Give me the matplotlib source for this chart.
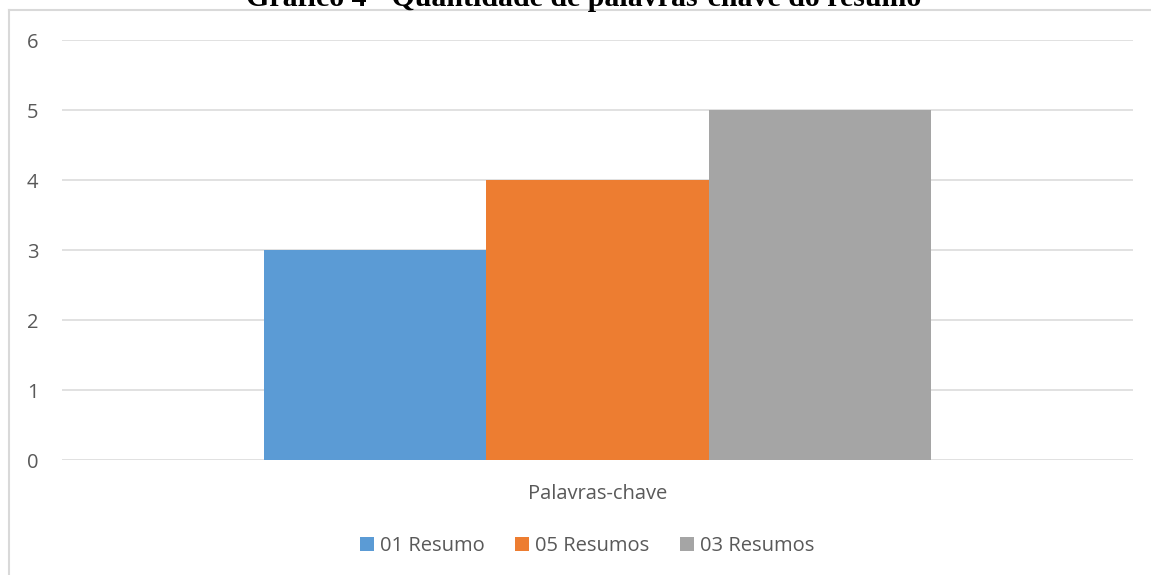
import matplotlib.pyplot as plt
from matplotlib.lines import Line2D
import numpy as np

category = 'Palavras-chave'
labels = ['01 Resumo', '05 Resumos', '03 Resumos']
values = [3, 4, 5]
colors = ['#5b9bd5', '#ed7d31', '#a5a5a5']
title = 'Gráfico 4 - Quantidade de palavras-chave do resumo'

plt.rcParams['font.family'] = ['Open Sans', 'DejaVu Sans']

fig = plt.figure(figsize=(11.51, 5.75), dpi=100)
ax = fig.add_axes([62 / 1151, 1 - 460 / 575, 1071 / 1151, 420 / 575])

w = 0.2078
for i, (lab, v, c) in enumerate(zip(labels, values, colors)):
    ax.bar((i - 1) * w, v, width=w, color=c, label=lab, zorder=2)

ax.set_xlim(-0.5, 0.5)
ax.set_ylim(0, 6)
ax.set_yticks(range(0, 7))
ax.set_xticks([0])
ax.set_xticklabels([category])
ax.grid(axis='y', color='#d9d9d9', linewidth=1.1, zorder=0)
for s in ax.spines.values():
    s.set_visible(False)
ax.tick_params(axis='both', length=0, labelsize=14.5, labelcolor='#595959')
ax.tick_params(axis='y', pad=17)
ax.tick_params(axis='x', pad=17)

leg = ax.legend(loc='center', bbox_to_anchor=(0.51, (575 - 546) / 575),
                bbox_transform=fig.transFigure, ncol=3, frameon=False,
                fontsize=14.5, handlelength=0.7, handleheight=0.7,
                handletextpad=0.3, columnspacing=1.5)
for t in leg.get_texts():
    t.set_color('#595959')

# chart frame (top and left edges visible)
fig.add_artist(Line2D([9 / 1151, 1], [1 - 10 / 575, 1 - 10 / 575],
                      transform=fig.transFigure, color='#d9d9d9', lw=1.5))
fig.add_artist(Line2D([9 / 1151, 9 / 1151], [0, 1 - 10 / 575],
                      transform=fig.transFigure, color='#d9d9d9', lw=1.5))

# title, cut off at the top edge
fig.text(584 / 1151, 1 - 6 / 575, title, ha='center', va='baseline',
         fontsize=21.5, fontweight='bold', family='Liberation Serif', color='black')

fig.savefig('out.png', dpi=100)
